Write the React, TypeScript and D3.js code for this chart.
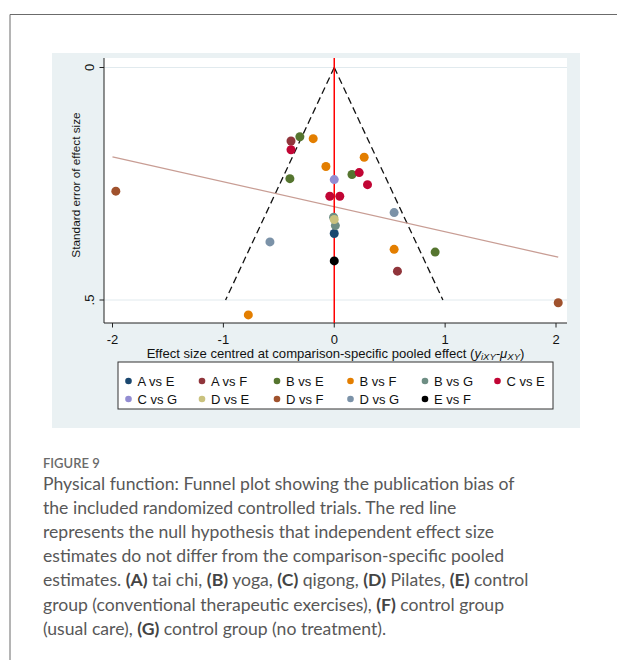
import React, { useEffect, useRef } from "react";
import * as d3 from "d3";

// comparison groups and their Stata-like colours
const comparisons = ["A vs E", "A vs F", "B vs E", "B vs F", "B vs G", "C vs E", "C vs G", "D vs E", "D vs F", "D vs G", "E vs F"];
const colors = ["#1a476f", "#90353b", "#55752f", "#e37e00", "#6e8e84", "#c10534", "#938dd2", "#cac27e", "#a0522d", "#7b92a8", "#000000"];

// effect size centred at comparison-specific pooled effect
const effectX = [
    [0],
    [-0.39, 0.57],
    [-0.31, -0.4, 0.16, 0.91],
    [-0.19, -0.075, 0.27, 0.54, -0.775],
    [-0.006, 0.01],
    [-0.39, -0.04, 0.05, 0.225, 0.3],
    [0],
    [0],
    [-1.97, 2.02],
    [-0.58, 0.54],
    [0],
];
// standard error of effect size
const effectSE = [
    [0.357],
    [0.158, 0.438],
    [0.149, 0.239, 0.23, 0.397],
    [0.153, 0.213, 0.193, 0.391, 0.532],
    [0.322, 0.34],
    [0.177, 0.277, 0.277, 0.226, 0.252],
    [0.241],
    [0.327],
    [0.266, 0.506],
    [0.375, 0.312],
    [0.416],
];

// fitted regression line (endpoints)
const regX = [-2, 2.02];
const regSE = [0.192, 0.408];

const xTicks = [-2, -1, 0, 1, 2];
const yTicks = [0, 0.5];
const yTickLabels = ["0", ".5"];

const captionTitle = "FIGURE 9";
// caption lines, [text, bold] pieces
const captionLines = [
    [["Physical function: Funnel plot showing the publication bias of", false]],
    [["the included randomized controlled trials. The red line", false]],
    [["represents the null hypothesis that independent effect size", false]],
    [["estimates do not differ from the comparison-specific pooled", false]],
    [["estimates. ", false], ["(A)", true], [" tai chi, ", false], ["(B)", true], [" yoga, ", false], ["(C)", true], [" qigong, ", false], ["(D)", true], [" Pilates, ", false], ["(E)", true], [" control", false]],
    [["group (conventional therapeutic exercises), ", false], ["(F)", true], [" control group", false]],
    [["(usual care), ", false], ["(G)", true], [" control group (no treatment).", false]],
];

const FunnelPlot = () => {
    const svgRef = useRef(null);

    useEffect(() => {
        const svg = d3.select(svgRef.current);
        svg.selectAll("*").remove();
        const font = "'Liberation Sans', Arial, sans-serif";

        // outer frame (only top & left visible)
        svg.append("line").attr("x1", 10).attr("y1", 14.5).attr("x2", 617).attr("y2", 14.5)
            .attr("stroke", "#6b6b6b").attr("stroke-width", 1);
        svg.append("line").attr("x1", 10).attr("y1", 14.5).attr("x2", 10).attr("y2", 660)
            .attr("stroke", "#6b6b6b").attr("stroke-width", 1);

        // graph region
        svg.append("rect").attr("x", 52).attr("y", 53).attr("width", 528).attr("height", 375)
            .attr("fill", "#eaf1f3");

        const plotL = 104, plotR = 567, plotT = 58, plotB = 323;
        svg.append("rect").attr("x", plotL).attr("y", plotT).attr("width", plotR - plotL).attr("height", plotB - plotT)
            .attr("fill", "#ffffff");

        const x = d3.scaleLinear().domain([-2, 2]).range([112.5, 556]);
        const y = d3.scaleLinear().domain([0, 0.5]).range([67.5, 300]);

        // gridlines
        svg.append("g").selectAll("line").data(yTicks).enter().append("line")
            .attr("x1", plotL).attr("x2", plotR)
            .attr("y1", d => y(d)).attr("y2", d => y(d))
            .attr("stroke", "#e1eaee").attr("stroke-width", 1);

        // axes
        svg.append("line").attr("x1", plotL).attr("x2", plotL).attr("y1", plotT).attr("y2", plotB)
            .attr("stroke", "#222").attr("stroke-width", 1);
        svg.append("line").attr("x1", plotL).attr("x2", plotR).attr("y1", plotB).attr("y2", plotB)
            .attr("stroke", "#222").attr("stroke-width", 1);

        const xt = svg.append("g");
        xt.selectAll("line").data(xTicks).enter().append("line")
            .attr("x1", d => x(d)).attr("x2", d => x(d)).attr("y1", plotB).attr("y2", plotB + 4.5)
            .attr("stroke", "#222");
        xt.selectAll("text").data(xTicks).enter().append("text")
            .attr("x", d => x(d)).attr("y", 344)
            .attr("text-anchor", "middle").attr("font-family", font).attr("font-size", 13)
            .attr("fill", "#111")
            .text(d => d);

        const yt = svg.append("g");
        yt.selectAll("line").data(yTicks).enter().append("line")
            .attr("x1", plotL - 4.5).attr("x2", plotL).attr("y1", d => y(d)).attr("y2", d => y(d))
            .attr("stroke", "#222");
        yt.selectAll("text").data(yTicks).enter().append("text")
            .attr("transform", d => `translate(94,${y(d)}) rotate(-90)`)
            .attr("text-anchor", "middle").attr("font-family", font).attr("font-size", 13)
            .attr("fill", "#111")
            .text((d, i) => yTickLabels[i]);

        // axis titles
        svg.append("text")
            .attr("transform", `translate(80,185) rotate(-90)`)
            .attr("text-anchor", "middle").attr("font-family", font).attr("font-size", 11.8)
            .attr("fill", "#111")
            .text("Standard error of effect size");

        const xTitle = svg.append("text")
            .attr("x", 335.5).attr("y", 357.5)
            .attr("text-anchor", "middle").attr("font-family", font).attr("font-size", 13.1)
            .attr("fill", "#111");
        xTitle.append("tspan").text("Effect size centred at comparison-specific pooled effect (");
        xTitle.append("tspan").attr("font-style", "italic").text("y");
        xTitle.append("tspan").attr("font-style", "italic").attr("font-size", 9.5).attr("dy", 2).text("iXY");
        xTitle.append("tspan").attr("font-style", "italic").attr("dy", -2).text("-μ");
        xTitle.append("tspan").attr("font-style", "italic").attr("font-size", 9.5).attr("dy", 2).text("XY");
        xTitle.append("tspan").attr("dy", -2).text(")");

        // pseudo 95% confidence limits
        const seRange = [0, 0.5];
        [-1.96, 1.96].forEach(z => {
            svg.append("line")
                .attr("x1", x(z * seRange[0])).attr("y1", y(seRange[0]))
                .attr("x2", x(z * seRange[1])).attr("y2", y(seRange[1]))
                .attr("stroke", "#111").attr("stroke-width", 1.3)
                .attr("stroke-dasharray", "7,4");
        });

        // regression line
        svg.append("path")
            .datum(regX.map((d, i) => [d, regSE[i]]))
            .attr("d", d3.line().x(d => x(d[0])).y(d => y(d[1])))
            .attr("stroke", "#c89d94").attr("stroke-width", 1.3).attr("fill", "none");

        // null line
        svg.append("line").attr("x1", x(0)).attr("x2", x(0)).attr("y1", plotT).attr("y2", plotB)
            .attr("stroke", "#ff0000").attr("stroke-width", 1.5);

        // points
        comparisons.forEach((c, i) => {
            svg.append("g").selectAll("circle")
                .data(effectX[i].map((d, j) => [d, effectSE[i][j]]))
                .enter().append("circle")
                .attr("cx", d => x(d[0])).attr("cy", d => y(d[1])).attr("r", 4.5)
                .attr("fill", colors[i]);
        });

        // legend
        svg.append("rect").attr("x", 118).attr("y", 362).attr("width", 435).attr("height", 47)
            .attr("fill", "#ffffff").attr("stroke", "#333").attr("stroke-width", 1);
        const colX = [128.5, 202, 277, 350.5, 425, 497.5];
        const rowY = [381, 399];
        comparisons.forEach((c, i) => {
            const cx = colX[i % 6], cy = rowY[Math.floor(i / 6)];
            svg.append("circle").attr("cx", cx).attr("cy", cy).attr("r", 3.3).attr("fill", colors[i]);
            svg.append("text").attr("x", cx + 9).attr("y", cy + 4.5)
                .attr("font-family", font).attr("font-size", 13).attr("fill", "#111")
                .text(c);
        });

        // caption
        const capFont = "Lato, 'Noto Sans', sans-serif";
        svg.append("text").attr("x", 43).attr("y", 467.5)
            .attr("font-family", capFont).attr("font-size", 13).attr("font-weight", 600)
            .attr("fill", "#6a6a6a").text(captionTitle);
        captionLines.forEach((line, i) => {
            const t = svg.append("text").attr("x", 43).attr("y", 489.5 + i * 24.2)
                .attr("font-family", capFont).attr("font-size", 17.6).attr("fill", "#585858");
            line.forEach(([s, b]) => {
                t.append("tspan").attr("font-weight", b ? 700 : 400)
                    .attr("fill", b ? "#444" : "#585858").text(s);
            });
        });
    }, []);

    return <svg ref={svgRef} width={617} height={660} style={{ position: "absolute", left: 0, top: 0 }}></svg>;
};

export default function App() {
    return <FunnelPlot />;
}
